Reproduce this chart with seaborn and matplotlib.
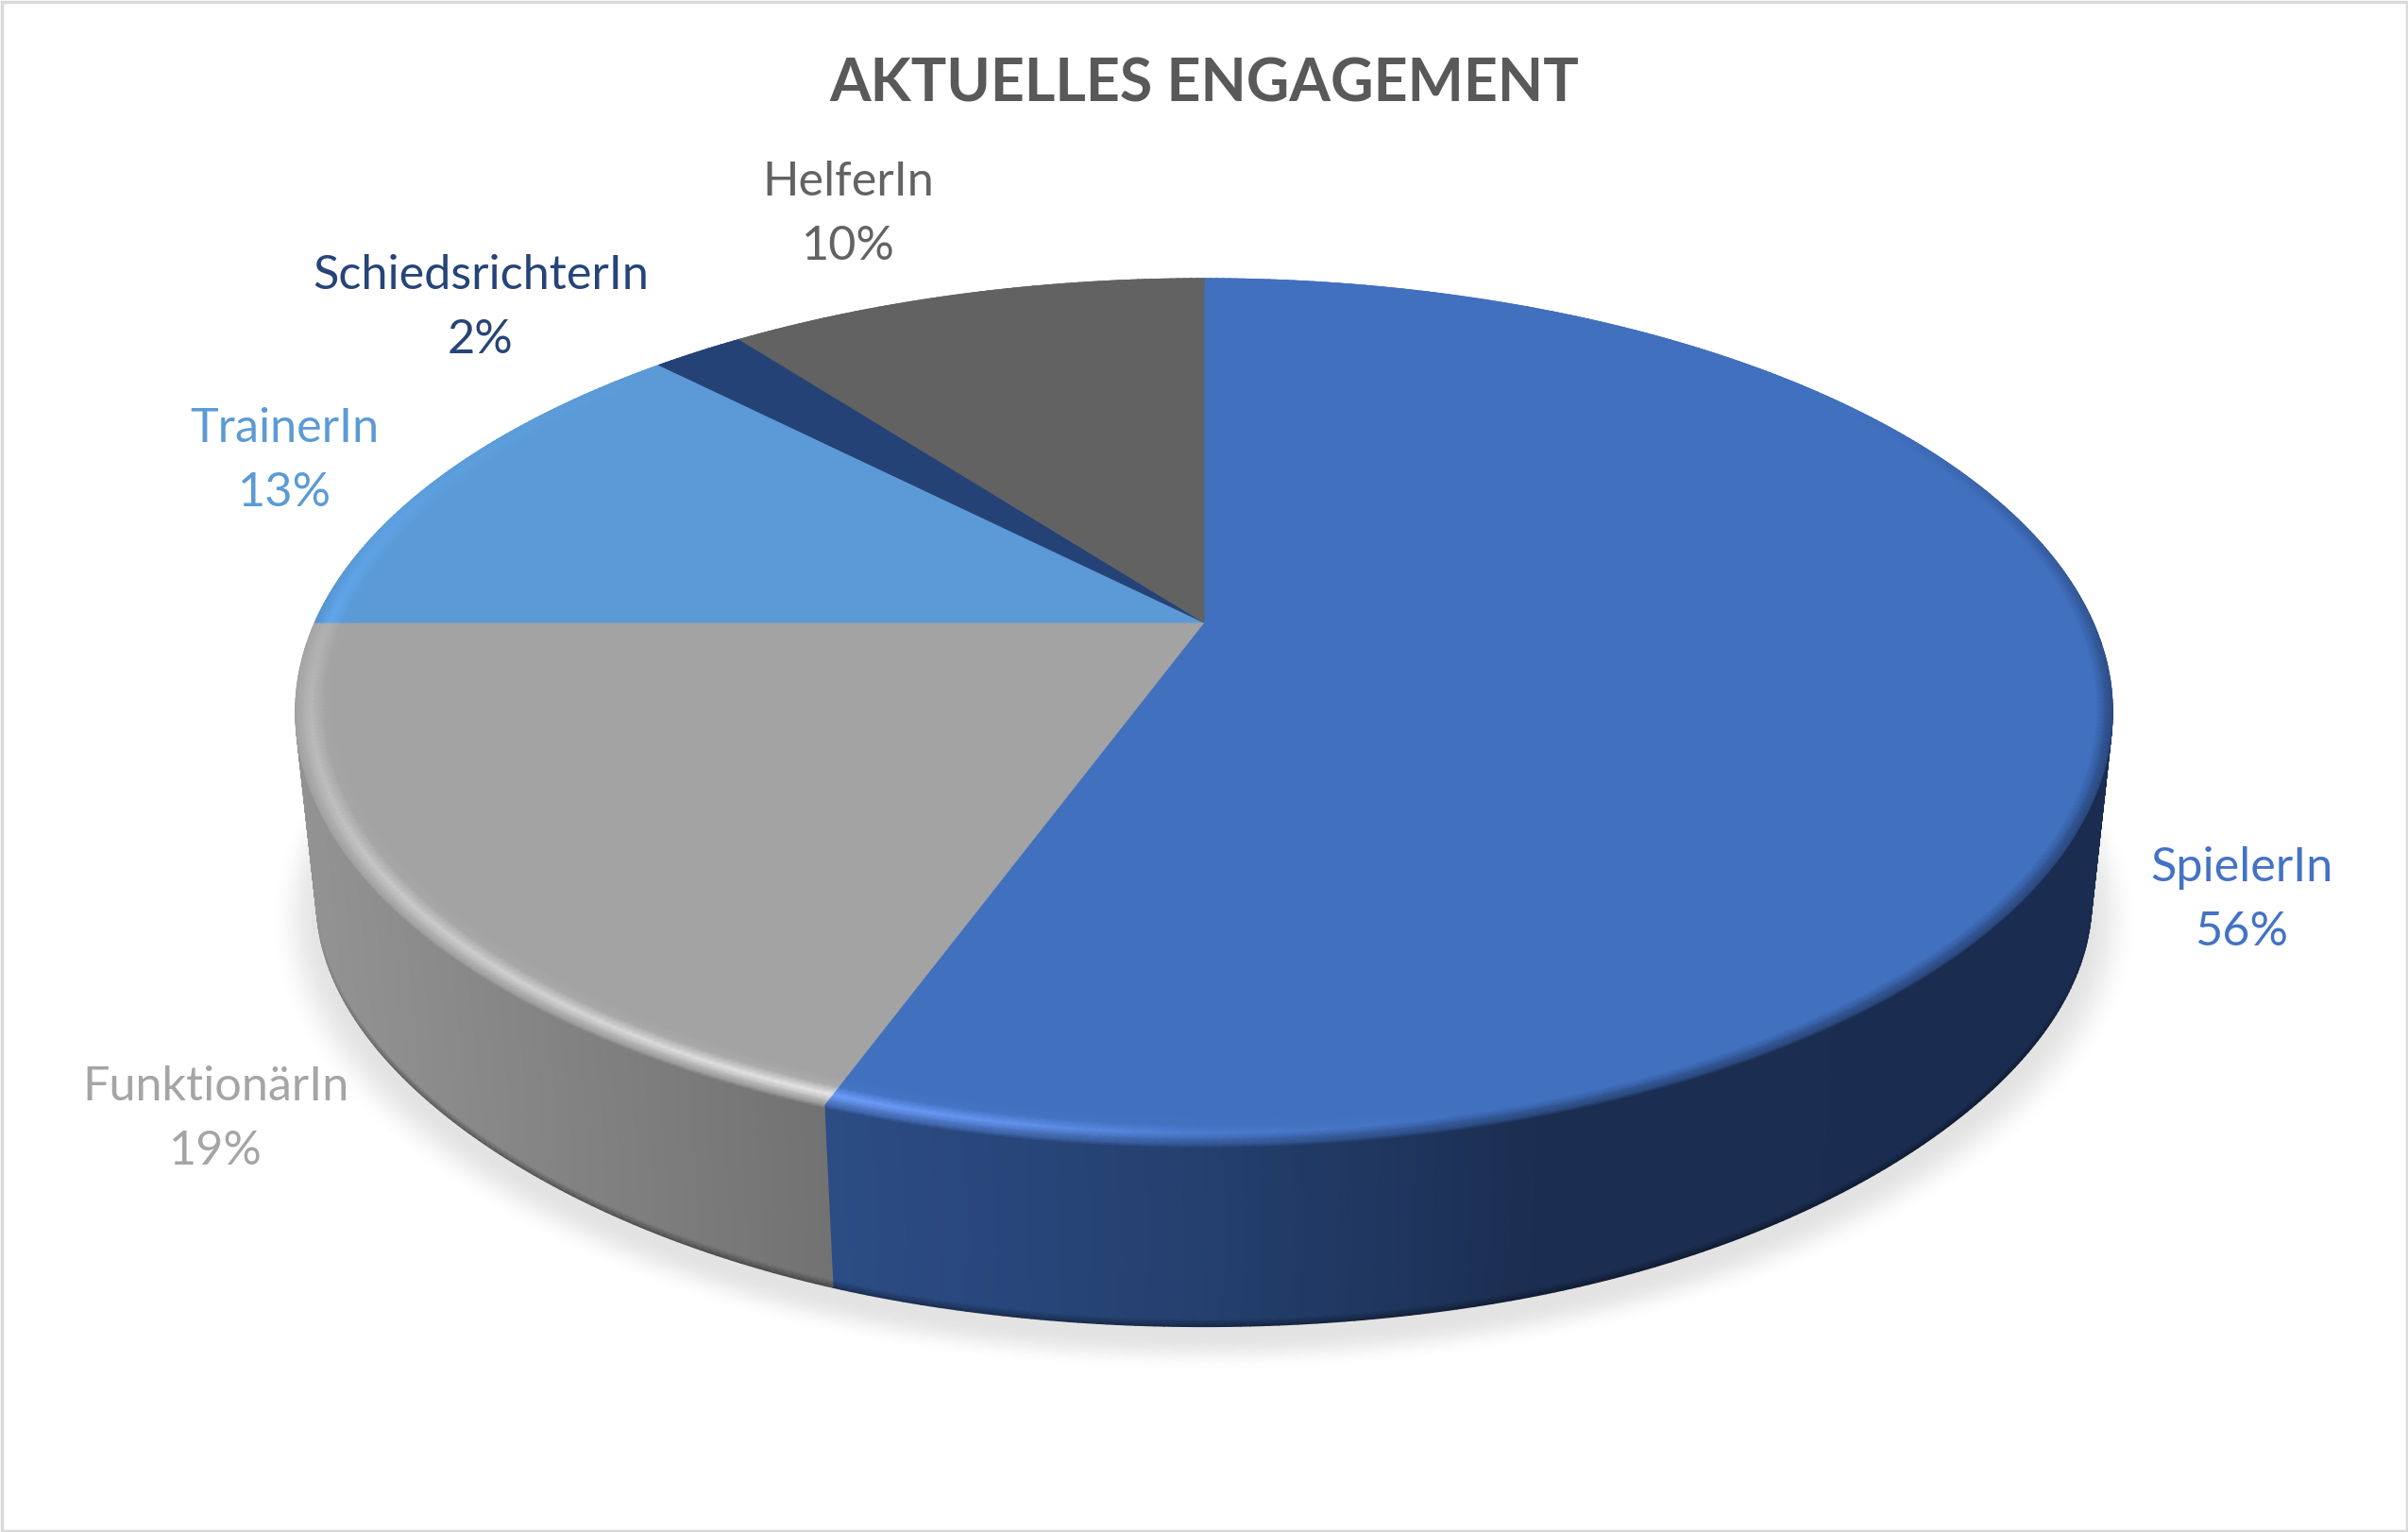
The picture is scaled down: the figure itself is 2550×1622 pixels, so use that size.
import numpy as np
import seaborn as sns
import matplotlib.pyplot as plt
from matplotlib.colors import to_rgb
from matplotlib.patches import Rectangle

# chart data
categories = ['SpielerIn', 'FunktionärIn', 'TrainerIn', 'SchiedsrichterIn', 'HelferIn']
shares = [55.6, 19.4, 12.6, 2.0, 10.4]
chart_title = 'AKTUELLES ENGAGEMENT'

# colours
face_hex = ['#4170bf', '#a3a3a3', '#5b9ad6', '#254277', '#626262']
text_hex = ['#4472c4', '#a5a5a5', '#5b9bd5', '#264478', '#636363']
glow_hex = ['#6f9fff', '#e8e8e8', '#66b2ff', '#254277', '#626262']

sns.set_theme(style='white')
plt.rcParams['font.family'] = ['Lato', 'DejaVu Sans']
face_colors = sns.color_palette(face_hex)

# tilted disc: a circle seen through a simple perspective, axes are in pixels
CX, CY = 1275, 659
RX, RY, TILT = 941.6, 439, 0.2057
WALL_SCALE, VANISH_Y = 0.977, 9600


def project(theta, r=1.0):
    x, y = r * np.sin(theta), r * np.cos(theta)
    w = 1 + TILT * y
    return CX + RX * x / w, CY - RY * y / w


def lower(px, py, theta, t=1.0):
    # point on the wall, t=0 at the rim and t=1 at the floor
    s = 1 - (1 - WALL_SCALE) * t
    off = np.abs(np.degrees(theta) - 180)
    # the floor curve is a bit flatter on the diagonals
    bump = np.clip((off - 15) / 80, 0, 1)
    flat = 9 * np.sin(np.pi * bump) ** 2
    return CX + s * (px - CX), VANISH_Y + s * (py - VANISH_Y) - flat * t


def mix(a, b, t):
    t = np.asarray(t)[..., None]
    return np.asarray(a) * (1 - t) + np.asarray(b) * t


def wall_color(i, px):
    if i == 0:
        stops = [to_rgb(c) for c in ['#2c4c85', '#24406f', '#1b2d50', '#1a2c4f']]
        xs = [876, 1270, 1650, 2240]
    elif i == 1:
        stops = [to_rgb(c) for c in ['#929292', '#727272']]
        xs = [335, 876]
    else:
        base = np.array(face_colors[i]) * 0.6
        return np.tile(base, (len(px), 1))
    return np.stack([np.interp(px, xs, [s[k] for s in stops]) for k in range(3)], axis=1)


def glow_amount(i, deg):
    if i == 0:
        return np.interp(deg, [165, 180, 190, 201], [0, 0.25, 0.75, 1])
    if i == 1:
        return np.interp(deg, [200, 220, 250, 275], [1, 0.7, 0.4, 0.15])
    if i == 2:
        return np.interp(deg, [270, 290, 316], [0.6, 0.2, 0])
    return np.zeros_like(deg)


def dark_amount(deg):
    return np.interp(deg, [55, 105, 250, 285], [0, 1, 1, 0])


def floor_line(deg):
    # dark line along the floor, only on the front where nothing folds over it
    return np.interp(deg, [104, 125, 235, 256], [0, 1, 1, 0])


fig, ax = plt.subplots(figsize=(25.5, 16.22), dpi=100)
ax.set_position([0, 0, 1, 1])
ax.set_xlim(0, 2550)
ax.set_ylim(1622, 0)
ax.axis('off')

# soft shadow under the disc
sh_t = np.linspace(0, 2 * np.pi, 361)
sh_r = np.array([0.9, 0.995, 1.005, 1.015, 1.025, 1.035, 1.045])
sh_level = np.array([0.89, 0.89, 0.90, 0.925, 0.955, 0.985, 1.0])
sh_x, sh_y = [], []
for r in sh_r:
    px, py = project(sh_t, r)
    qx, qy = lower(px, py, sh_t)
    sh_x.append(qx)
    sh_y.append(qy + 14)
sh_c = np.repeat(sh_level[:, None, None], len(sh_t), axis=1).repeat(3, axis=2)
ax.pcolormesh(np.array(sh_x), np.array(sh_y), sh_c, shading='gouraud', zorder=1)

edges = np.deg2rad(np.r_[0, np.cumsum(shares)] * 3.6)

for i in range(len(categories)):
    theta = np.linspace(edges[i], edges[i + 1], max(int(np.degrees(edges[i + 1] - edges[i])) * 2, 8))
    deg = np.degrees(theta)
    base = np.array(face_colors[i])
    glow = np.array(to_rgb(glow_hex[i]))

    rim_x, rim_y = project(theta)
    wall = wall_color(i, rim_x)
    peak = mix(base, glow, glow_amount(i, deg))
    edge_col = mix(mix(base, peak, 0.6), wall, 0.6 * dark_amount(deg))

    # flat top of the slice
    fx, fy = project(theta, 0.96)
    ax.fill(np.r_[CX, fx], np.r_[CY, fy], color=base, lw=0.6, zorder=3)

    # bevel, then side wall, one mesh from the top face down to the floor
    rows_x, rows_y, rows_c = [], [], []
    bevel = [
        (0.955, np.tile(base, (len(theta), 1))),
        (0.97, mix(base, peak, 0.12)),
        (0.983, peak),
        (0.992, mix(peak, wall, 0.35 * dark_amount(deg))),
        (1.0, edge_col),
    ]
    for r, col in bevel:
        x, y = project(theta, r)
        rows_x.append(x)
        rows_y.append(y)
        rows_c.append(col)
    floor_col = mix(wall, wall * 0.62, floor_line(deg))
    for t, col in [(0.02, wall), (0.96, wall), (1.0, floor_col)]:
        x, y = lower(rim_x, rim_y, theta, t)
        rows_x.append(x)
        rows_y.append(y)
        rows_c.append(col)
    ax.pcolormesh(np.array(rows_x[4:]), np.array(rows_y[4:]), np.stack(rows_c[4:]), shading='gouraud', zorder=2)
    ax.pcolormesh(np.array(rows_x[:5]), np.array(rows_y[:5]), np.stack(rows_c[:5]), shading='gouraud', zorder=4)

# data labels
label_xy = [(2374, 953), (228, 1185), (301, 488), (509, 326), (898, 227)]
for name, share, col, (lx, ly) in zip(categories, shares, text_hex, label_xy):
    ax.text(lx, ly, f'{name}\n{share:.0f}%', color=col, fontsize=36.3, ha='center', va='center',
            linespacing=1.6, zorder=6)

ax.text(1275, 90, chart_title, color='#595959', fontsize=45.2, fontweight='bold',
        ha='center', va='center', zorder=6)

# thin chart frame
ax.add_patch(Rectangle((1.5, 1.5), 2547, 1619, fill=False, ec='#d9d9d9', lw=2.5, zorder=7))

fig.savefig('out.png', dpi=100)
